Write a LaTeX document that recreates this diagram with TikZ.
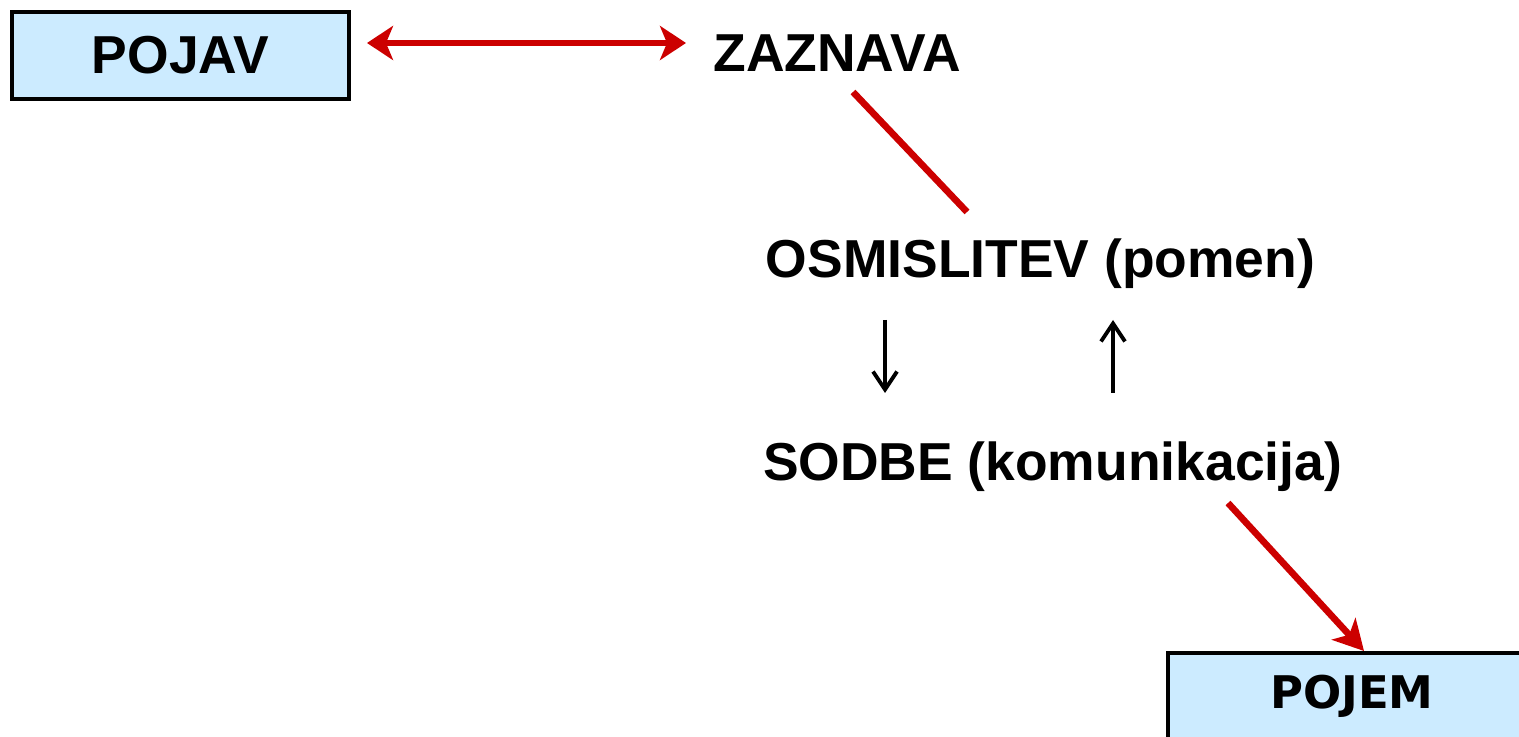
\documentclass[tikz,border=0pt]{standalone}
\usepackage{fontspec}
\setmainfont{Liberation Sans}
\newfontfamily\pojemfont{DejaVu Sans}
\usepackage{xcolor}
\usetikzlibrary{arrows.meta}

\definecolor{boxblue}{HTML}{CCEBFF}
\definecolor{linered}{HTML}{CC0000}

\begin{document}
\begin{tikzpicture}[
  box/.style={draw=black, fill=boxblue, line width=1.15pt, inner sep=0pt},
  word/.style={font=\fontsize{15.2}{18}\selectfont\bfseries, inner sep=0pt, anchor=base},
  redline/.style={draw=linered, line width=1.9pt},
  redtip/.style={-{Stealth[length=0.3cm, width=0.32cm, inset=0.08cm]}},
  blackarrow/.style={draw=black, line width=1.1pt, -{Straight Barb[length=0.18cm, width=0.24cm]}}]
  \useasboundingbox (0,0) rectangle (15.19,-7.37);
  % Boxes
  \node[box, minimum width=3.37cm, minimum height=0.87cm,
        font=\fontsize{15.2}{18}\selectfont\bfseries] (pojav) at (1.805,-0.555) {POJAV};
  \node[box, minimum width=3.68cm, minimum height=0.86cm,
        font=\fontsize{12.8}{15}\selectfont\pojemfont\bfseries] (pojem) at (13.52,-6.96) {POJEM};
  % Words
  \node[word] (zaz) at (8.37,-0.72) {ZAZNAVA};
  \node[word] (osm) at (10.405,-2.78) {OSMISLITEV (pomen)};
  \node[word] (sod) at (10.525,-4.81) {SODBE (komunikacija)};
  % End points
  \coordinate (pojavR) at (3.67,-0.43);
  \coordinate (zazL) at (6.86,-0.43);
  \coordinate (zazB) at (8.53,-0.92);
  \coordinate (osmT) at (9.67,-2.12);
  \coordinate (osmD) at (8.85,-3.20);
  \coordinate (sodD) at (8.85,-3.93);
  \coordinate (sodU) at (11.13,-3.93);
  \coordinate (osmU) at (11.13,-3.20);
  \coordinate (sodB) at (12.28,-5.03);
  \coordinate (pojemT) at (13.64,-6.51);
  % Red connectors
  \draw[redline, {Stealth[length=0.26cm, width=0.34cm, inset=0.07cm]}-{Stealth[length=0.26cm, width=0.34cm, inset=0.07cm]}] (pojavR) -- (zazL);
  \draw[redline] (zazB) -- (osmT);
  \draw[redline, redtip] (sodB) -- (pojemT);
  % Black arrows
  \draw[blackarrow] (osmD) -- (sodD);
  \draw[blackarrow] (sodU) -- (osmU);
\end{tikzpicture}
\end{document}
